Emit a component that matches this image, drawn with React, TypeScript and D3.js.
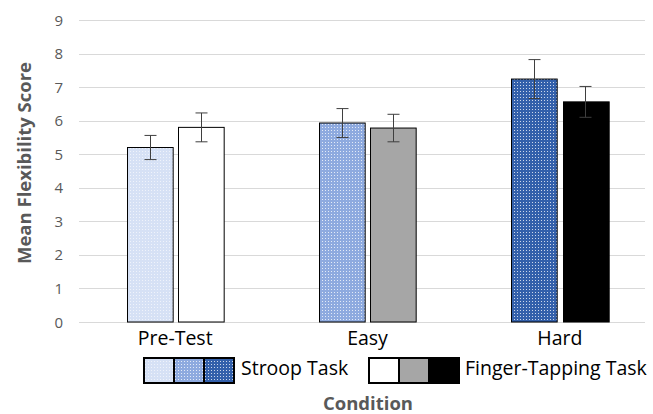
import { useEffect, useRef } from 'react';
import * as d3 from 'd3';

const conditions = ['Pre-Test', 'Easy', 'Hard'];
const tasks = ['Stroop Task', 'Finger-Tapping Task'];
const stroopMeans = [5.2, 5.93, 7.24];
const stroopErrors = [0.36, 0.43, 0.58];
const tappingMeans = [5.8, 5.78, 6.56];
const tappingErrors = [0.43, 0.41, 0.46];
const yTicks = [0, 1, 2, 3, 4, 5, 6, 7, 8, 9];

const stroopColors = ['#d6e1f5', '#8eaadf', '#3360ab'];
const tappingColors = ['#ffffff', '#a6a6a6', '#000000'];

const FONT = '"Open Sans", Lato, sans-serif';

const App = () => {
  const svgRef = useRef<SVGSVGElement>(null);

  useEffect(() => {
    const svg = d3.select(svgRef.current);
    svg.selectAll('*').remove();

    const width = 653;
    const height = 414;
    const plotLeft = 79;
    const plotRight = 656;
    const gridRight = 645;

    // dotted fill patterns for the Stroop bars
    const defs = svg.append('defs');
    stroopColors.forEach((c, i) => {
      const p = defs.append('pattern')
        .attr('id', `dots${i}`)
        .attr('patternUnits', 'userSpaceOnUse')
        .attr('width', 3)
        .attr('height', 3);
      p.append('rect').attr('width', 3).attr('height', 3).attr('fill', c);
      p.append('rect').attr('x', 1).attr('y', 1).attr('width', 1).attr('height', 1)
        .attr('fill', '#ffffff').attr('opacity', i === 0 ? 0.6 : 0.75);
    });

    const y = d3.scaleLinear().domain([0, 9]).range([322, 20]);
    const x = d3.scaleBand().domain(conditions).range([plotLeft, plotRight]);
    const inner = d3.scaleBand().domain(tasks).range([0, 97]).paddingInner(0.11);

    // gridlines
    svg.append('g')
      .selectAll('line')
      .data(yTicks)
      .enter()
      .append('line')
      .attr('x1', plotLeft)
      .attr('x2', gridRight)
      .attr('y1', d => Math.round(y(d)) + 0.5)
      .attr('y2', d => Math.round(y(d)) + 0.5)
      .attr('stroke', '#d9d9d9')
      .attr('stroke-width', 1);

    // y tick labels
    svg.append('g')
      .selectAll('text')
      .data(yTicks)
      .enter()
      .append('text')
      .attr('x', 63)
      .attr('y', d => y(d) + 5.5)
      .attr('text-anchor', 'end')
      .attr('font-family', FONT)
      .attr('font-size', 15)
      .attr('fill', '#595959')
      .text(d => d);

    const rows = conditions.map((c, i) => [
      { cond: c, task: tasks[0], mean: stroopMeans[i], err: stroopErrors[i], fill: `url(#dots${i})` },
      { cond: c, task: tasks[1], mean: tappingMeans[i], err: tappingErrors[i], fill: tappingColors[i] }
    ]).flat();

    const bx = d => x(d.cond)! + x.bandwidth() / 2 - 48.5 + inner(d.task)!;

    // bars
    svg.append('g')
      .selectAll('rect')
      .data(rows)
      .enter()
      .append('rect')
      .attr('x', d => Math.round(bx(d)) + 0.5)
      .attr('y', d => y(d.mean))
      .attr('width', inner.bandwidth())
      .attr('height', d => y(0) - y(d.mean))
      .attr('fill', d => d.fill)
      .attr('stroke', '#000')
      .attr('stroke-width', 1);

    // error bars
    const eb = svg.append('g').attr('stroke', '#3f3f3f').attr('stroke-width', 1);
    rows.forEach(d => {
      const cx = Math.round(bx(d) + inner.bandwidth() / 2) + 0.5;
      const top = y(d.mean + d.err);
      const bot = y(d.mean - d.err);
      eb.append('line').attr('x1', cx).attr('x2', cx).attr('y1', top).attr('y2', bot);
      eb.append('line').attr('x1', cx - 6).attr('x2', cx + 6).attr('y1', top).attr('y2', top);
      eb.append('line').attr('x1', cx - 6).attr('x2', cx + 6).attr('y1', bot).attr('y2', bot);
    });

    // category labels
    svg.append('g')
      .selectAll('text')
      .data(conditions)
      .enter()
      .append('text')
      .attr('x', d => x(d)! + x.bandwidth() / 2)
      .attr('y', 345)
      .attr('text-anchor', 'middle')
      .attr('font-family', FONT)
      .attr('font-size', 19.5)
      .attr('fill', '#000')
      .text(d => d);

    // legend
    const legend = [
      { label: tasks[0], x0: 144, fills: [0, 1, 2].map(i => `url(#dots${i})`), tx: 241 },
      { label: tasks[1], x0: 369, fills: tappingColors, tx: 465 }
    ];
    legend.forEach(l => {
      const g = svg.append('g');
      l.fills.forEach((f, i) => {
        g.append('rect')
          .attr('x', l.x0 + i * 30)
          .attr('y', 358)
          .attr('width', 30)
          .attr('height', 25)
          .attr('fill', f)
          .attr('stroke', '#000')
          .attr('stroke-width', 2);
      });
      g.append('text')
        .attr('x', l.tx)
        .attr('y', 375)
        .attr('font-family', FONT)
        .attr('font-size', 19.5)
        .attr('fill', '#000')
        .text(l.label);
    });

    // axis titles
    svg.append('text')
      .attr('transform', `translate(31,${163}) rotate(-90)`)
      .attr('text-anchor', 'middle')
      .attr('font-family', FONT)
      .attr('font-size', 18.5)
      .attr('font-weight', 'bold')
      .attr('fill', '#595959')
      .text('Mean Flexibility Score');

    svg.append('text')
      .attr('x', 368)
      .attr('y', 410)
      .attr('text-anchor', 'middle')
      .attr('font-family', FONT)
      .attr('font-size', 18.5)
      .attr('font-weight', 'bold')
      .attr('fill', '#595959')
      .text('Condition');

    svg.attr('width', width).attr('height', height);
  }, []);

  return (
    <div style={{ position: 'absolute', left: 0, top: 0 }}>
      <svg ref={svgRef} style={{ display: 'block', background: '#fff' }}></svg>
    </div>
  );
};

export default App;
